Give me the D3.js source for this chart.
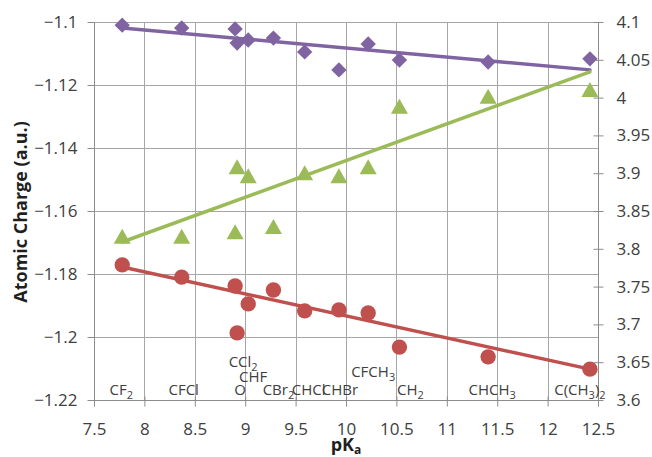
<!DOCTYPE html>
<html>
<head>
<meta charset="utf-8">
<script src="https://cdn.jsdelivr.net/npm/d3@7"></script>
<style>
  html, body { margin: 0; padding: 0; background: #fff; }
  svg { display: block; font-family: "Open Sans", "Liberation Sans", sans-serif; }
</style>
</head>
<body>
<svg id="chart" width="652" height="457"></svg>
<script>
// ---------------- DATA ----------------
const categories = ["CF2", "CFCl", "O", "CCl2", "CHF", "CBr2", "CHCl", "CHBr", "CFCH3", "CH2", "CHCH3", "C(CH3)2"];
const pKa        = [7.78, 8.37, 8.90, 8.92, 9.03, 9.28, 9.59, 9.93, 10.22, 10.53, 11.41, 12.42];
// purple diamonds (left axis)
const purpleValues = [-1.1010, -1.1019, -1.1022, -1.1067, -1.1057, -1.1051, -1.1095, -1.1152, -1.1070, -1.1121, -1.1127, -1.1117];
// red circles (left axis)
const redValues    = [-1.1771, -1.1810, -1.1838, -1.1987, -1.1895, -1.1851, -1.1917, -1.1914, -1.1924, -1.2032, -1.2063, -1.2102];
// green triangles (right axis)
const greenValues  = [3.816, 3.816, 3.822, 3.908, 3.896, 3.829, 3.900, 3.896, 3.908, 3.988, 4.001, 4.010];
// trend lines: [startPKa, startValue, endPKa, endValue]
const purpleTrend = [7.78, -1.1019, 12.42, -1.1152];
const redTrend    = [7.78, -1.1778, 12.42, -1.2102];
const greenTrend  = [7.78, 3.809, 12.42, 4.034];
// axis ticks
const xTicks      = [7.5, 8, 8.5, 9, 9.5, 10, 10.5, 11, 11.5, 12, 12.5];
const leftTicks   = [-1.1, -1.12, -1.14, -1.16, -1.18, -1.2, -1.22];
const rightTicks  = [3.6, 3.65, 3.7, 3.75, 3.8, 3.85, 3.9, 3.95, 4, 4.05, 4.1];

// ---------------- LAYOUT / STYLE ----------------
const W = 652, H = 457;
const M = { left: 94, right: 598, top: 22, bottom: 400 };
const colors = { purple: "#8064A2", red: "#C0504D", green: "#9BBB59", grid: "#A6A6A6", axis: "#8C8C8C", text: "#404040", title: "#1f1f1f" };
// label placement offsets (px) relative to point x, and baseline y
const labelLayout = {
  "CF2": [-1, 395], "CFCl": [2, 395], "O": [5, 395], "CCl2": [6, 367], "CHF": [5, 382],
  "CBr2": [5, 395], "CHCl": [4, 395], "CHBr": [1, 395], "CFCH3": [5, 377], "CH2": [11, 395],
  "CHCH3": [4, 395], "C(CH3)2": [-10, 395]
};

const svg = d3.select("#chart");
const x = d3.scaleLinear().domain([7.5, 12.5]).range([M.left, M.right]);
const yL = d3.scaleLinear().domain([-1.22, -1.1]).range([M.bottom, M.top]);
const yR = d3.scaleLinear().domain([3.6, 4.1]).range([M.bottom, M.top]);

// gridlines
const g = svg.append("g");
g.selectAll(".hg").data(leftTicks).enter().append("line")
  .attr("x1", M.left).attr("x2", M.right)
  .attr("y1", d => Math.round(yL(d)) + 0.5).attr("y2", d => Math.round(yL(d)) + 0.5)
  .attr("stroke", colors.grid).attr("stroke-width", 1);
g.selectAll(".vg").data(xTicks.slice(1, -1)).enter().append("line")
  .attr("y1", M.top).attr("y2", M.bottom)
  .attr("x1", d => Math.round(x(d)) + 0.5).attr("x2", d => Math.round(x(d)) + 0.5)
  .attr("stroke", colors.grid).attr("stroke-width", 1);

// axes
const axL = d3.axisLeft(yL).tickValues(leftTicks).tickSize(7).tickPadding(10)
  .tickFormat(d => d3.format("")(+d.toFixed(2)));
const axR = d3.axisRight(yR).tickValues(rightTicks).tickSize(5).tickPadding(13)
  .tickFormat(d => d3.format("")(+d.toFixed(2)));
const axB = d3.axisBottom(x).tickValues(xTicks).tickSize(6).tickPadding(16)
  .tickFormat(d => d3.format("")(d));

function styleAxis(sel) {
  sel.select(".domain").attr("stroke", colors.axis);
  sel.selectAll(".tick line").attr("stroke", colors.axis);
  sel.selectAll(".tick text").attr("fill", colors.text).style("font-size", "17px")
    .style("font-family", "'Open Sans', sans-serif");
}
const gL = svg.append("g").attr("transform", `translate(${M.left + 0.5},0)`).call(axL).call(styleAxis);
const gR = svg.append("g").attr("transform", `translate(${M.right + 0.5},0)`).call(axR).call(styleAxis);
gR.selectAll(".tick line").attr("x1", -5);
const gB = svg.append("g").attr("transform", `translate(0,${M.bottom + 0.5})`).call(axB).call(styleAxis);
gB.selectAll(".tick line").attr("y1", -4);
gL.select(".domain").attr("d", `M0,${M.top}V${M.bottom}`);
gR.select(".domain").attr("d", `M0,${M.top}V${M.bottom}`);
gB.select(".domain").attr("d", `M${M.left},0H${M.right}`);

// category labels with subscripts
function addFormula(sel, txt) {
  const parts = txt.split(/(\d)/).filter(s => s.length);
  let shifted = false;
  parts.forEach(p => {
    if (/^\d$/.test(p)) {
      sel.append("tspan").text(p).style("font-size", "11px").attr("dy", 4);
      shifted = true;
    } else {
      const t = sel.append("tspan").text(p);
      if (shifted) { t.attr("dy", -4); shifted = false; }
    }
  });
}
const labels = svg.append("g");
categories.forEach((c, i) => {
  const [dx, by] = labelLayout[c];
  const t = labels.append("text")
    .attr("x", x(pKa[i]) + dx).attr("y", by)
    .attr("text-anchor", "middle")
    .attr("fill", colors.text)
    .style("font-size", "15px");
  addFormula(t, c);
});

// trend lines
function trend(arr, yScale, color) {
  svg.append("line")
    .attr("x1", x(arr[0])).attr("y1", yScale(arr[1]))
    .attr("x2", x(arr[2])).attr("y2", yScale(arr[3]))
    .attr("stroke", color).attr("stroke-width", 3.5).attr("stroke-linecap", "round");
}
trend(purpleTrend, yL, colors.purple);
trend(greenTrend, yR, colors.green);
trend(redTrend, yL, colors.red);

// markers
const diamond = d3.symbol().type(d3.symbolSquare).size(118)();
svg.append("g").selectAll("path").data(purpleValues).enter().append("path")
  .attr("d", diamond)
  .attr("transform", (d, i) => `translate(${x(pKa[i])},${yL(d)}) rotate(45)`)
  .attr("fill", colors.purple);

const tri = "M0,-8L8.5,7L-8.5,7Z";
svg.append("g").selectAll("path").data(greenValues).enter().append("path")
  .attr("d", tri)
  .attr("transform", (d, i) => `translate(${x(pKa[i])},${yR(d)})`)
  .attr("fill", colors.green);

svg.append("g").selectAll("circle").data(redValues).enter().append("circle")
  .attr("cx", (d, i) => x(pKa[i])).attr("cy", d => yL(d)).attr("r", 7.7)
  .attr("fill", colors.red);

// axis titles
svg.append("text")
  .attr("transform", `translate(27,${(M.top + M.bottom) / 2 + 1}) rotate(-90)`)
  .attr("text-anchor", "middle").attr("fill", colors.title)
  .style("font-size", "18px").style("font-weight", "bold")
  .text("Atomic Charge (a.u.)");
const xt = svg.append("text")
  .attr("x", 346).attr("y", 451).attr("text-anchor", "middle")
  .attr("fill", colors.title).style("font-size", "18px").style("font-weight", "bold");
xt.append("tspan").text("pK");
xt.append("tspan").text("a").style("font-size", "12px").attr("dy", 3);
</script>
</body>
</html>
